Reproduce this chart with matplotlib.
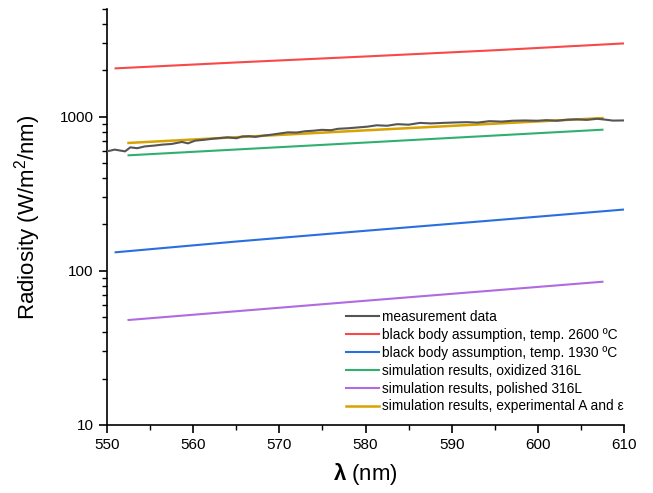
import matplotlib
matplotlib.use("Agg")
import matplotlib.pyplot as plt
from matplotlib.ticker import MultipleLocator, LogLocator, FixedLocator, NullFormatter

plt.rcParams['font.family'] = ['Liberation Sans', 'DejaVu Sans']
plt.rcParams['mathtext.fontset'] = 'custom'
plt.rcParams['mathtext.rm'] = 'Liberation Sans'
plt.rcParams['mathtext.it'] = 'Liberation Sans:italic'
plt.rcParams['mathtext.bf'] = 'Liberation Sans:bold'

meas_x = [550.0, 550.9, 552.1, 552.7, 553.5, 554.4, 555.5, 556.4, 557.5, 558.7, 559.4,
          560.2, 561.4, 562.5, 564.0, 565.0, 565.7, 566.5, 567.2, 568.2, 569.1, 570.0,
          571.0, 572.0, 573.0, 574.0, 574.9, 576.0, 576.8, 578.0, 579.1, 580.2, 581.3,
          582.5, 583.7, 585.0, 586.3, 587.6, 589.0, 590.4, 591.8, 593.0, 594.4, 595.8,
          597.1, 598.5, 599.9, 601.0, 602.2, 603.4, 604.5, 605.7, 606.9, 607.8, 608.7, 609.9]
meas_y = [596, 612, 596, 633, 625, 642, 650, 659, 666, 686, 672,
          699, 710, 722, 735, 725, 745, 748, 740, 755, 765, 778,
          792, 790, 805, 812, 822, 818, 835, 842, 852, 862, 880,
          874, 895, 888, 912, 905, 912, 918, 922, 916, 936, 930,
          942, 946, 942, 950, 942, 956, 962, 954, 970, 958, 944, 946]

bb2600_x = [551.0, 565.0, 580.0, 595.0, 610.0]
bb2600_y = [2060, 2250, 2460, 2700, 2990]

bb1930_x = [551.0, 565.0, 580.0, 595.0, 610.0]
bb1930_y = [132, 155, 182, 213, 250]

ox_x = [552.5, 580.0, 607.5]
ox_y = [562, 680, 824]

pol_x = [552.5, 580.0, 607.5]
pol_y = [48, 64, 85]

exp_x = [552.5, 580.0, 607.5]
exp_y = [676, 816, 980]

labels = ["measurement data",
          "black body assumption, temp. 2600 \u00baC",
          "black body assumption, temp. 1930 \u00baC",
          "simulation results, oxidized 316L",
          "simulation results, polished 316L",
          "simulation results, experimental A and \u03b5"]
colors = ["#555555", "#F84848", "#2A6FE0", "#30B070", "#B06BE0", "#D8A200"]

fig = plt.figure(figsize=(6.53, 4.93), dpi=100)
ax = fig.add_axes([107/653, 1-425/493, 517/653, 416/493])

ax.plot(meas_x, meas_y, color=colors[0], lw=1.5, label=labels[0], zorder=5)
ax.plot(bb2600_x, bb2600_y, color=colors[1], lw=1.5, label=labels[1])
ax.plot(bb1930_x, bb1930_y, color=colors[2], lw=1.5, label=labels[2])
ax.plot(ox_x, ox_y, color=colors[3], lw=1.5, label=labels[3])
ax.plot(pol_x, pol_y, color=colors[4], lw=1.5, label=labels[4])
ax.plot(exp_x, exp_y, color=colors[5], lw=1.8, label=labels[5], zorder=4)

ax.set_yscale('log')
ax.set_xlim(550, 610)
ax.set_ylim(10, 5000)
ax.xaxis.set_major_locator(MultipleLocator(10))
ax.xaxis.set_minor_locator(MultipleLocator(5))
ax.yaxis.set_major_locator(FixedLocator([10, 100, 1000]))
ax.yaxis.set_major_formatter(matplotlib.ticker.FuncFormatter(lambda v, p: f"{int(v)}"))
ax.yaxis.set_minor_locator(LogLocator(base=10, subs=range(2, 10)))
ax.yaxis.set_minor_formatter(NullFormatter())

for s in ['top', 'right']:
    ax.spines[s].set_visible(False)
for s in ['left', 'bottom']:
    ax.spines[s].set_linewidth(1.2)
ax.tick_params(which='major', direction='out', length=6, width=1.2, labelsize=11)
ax.tick_params(which='minor', direction='out', length=3.5, width=1.0)

ax.set_xlabel(r"$\mathbf{\lambda}$ (nm)", fontsize=16, labelpad=6)
ax.set_ylabel("Radiosity (W/m$^{2}$/nm)", fontsize=16, labelpad=12)

leg = ax.legend(loc='upper left', bbox_to_anchor=(0.462, 0.276), frameon=False,
                fontsize=9.9, handlelength=2.4, handletextpad=0.2, labelspacing=0.28,
                borderaxespad=0, borderpad=0)

fig.savefig("out.png", dpi=100)
